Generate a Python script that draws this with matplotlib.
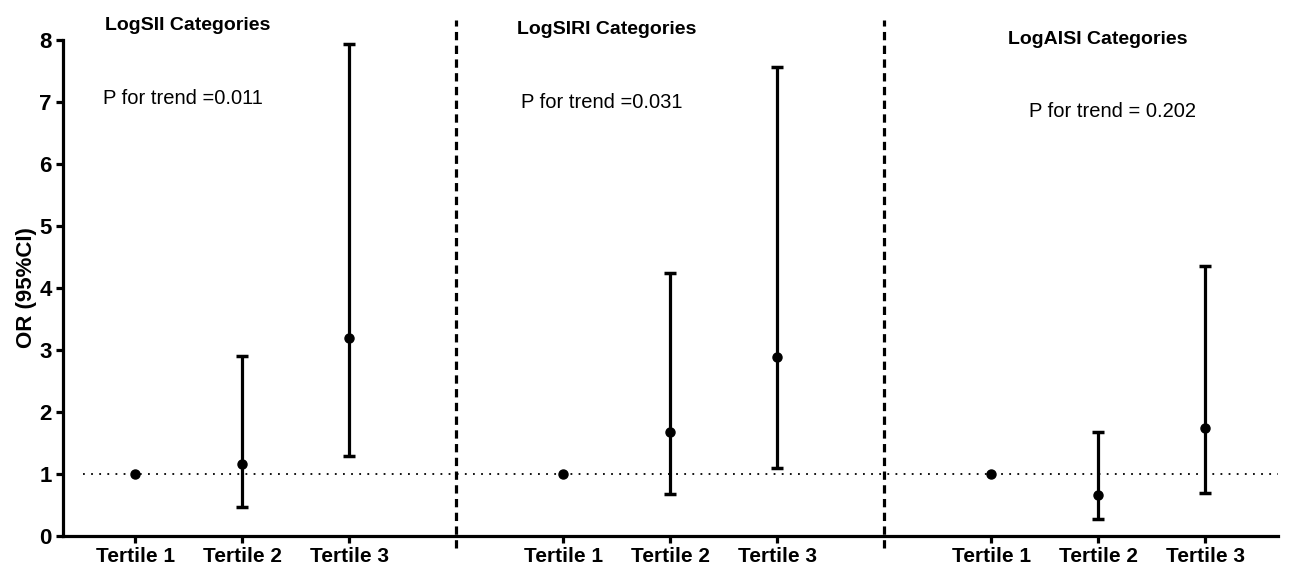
import numpy as np
import matplotlib
matplotlib.use('Agg')
import matplotlib.pyplot as plt

plt.rcParams['font.family'] = ['Liberation Sans', 'DejaVu Sans']

# Data
groups = ['LogSII Categories', 'LogSIRI Categories', 'LogAISI Categories']
p_trend = ['P for trend =0.011', 'P for trend =0.031', 'P for trend = 0.202']
tertiles = ['Tertile 1', 'Tertile 2', 'Tertile 3']

sii_or = [1.0, 1.16, 3.19]
sii_lo = [1.0, 0.47, 1.29]
sii_hi = [1.0, 2.90, 7.94]

siri_or = [1.0, 1.68, 2.89]
siri_lo = [1.0, 0.68, 1.10]
siri_hi = [1.0, 4.24, 7.56]

aisi_or = [1.0, 0.66, 1.74]
aisi_lo = [1.0, 0.27, 0.69]
aisi_hi = [1.0, 1.68, 4.35]

series = [(sii_or, sii_lo, sii_hi), (siri_or, siri_lo, siri_hi), (aisi_or, aisi_lo, aisi_hi)]

fig = plt.figure(figsize=(12.95, 5.73), dpi=100)
ax = fig.add_axes([0.0487, 0.0646, 0.9382, 0.8654])

lw = 2.3
xticks = []
xlabels = []
for g, (orv, lo, hi) in enumerate(series):
    x = np.arange(3) + 4 * g
    orv = np.array(orv)
    lo = np.array(lo)
    hi = np.array(hi)
    # reference category: point only
    ax.plot(x[0], orv[0], 'o', color='black', ms=6.5, zorder=4)
    ax.errorbar(x[1:], orv[1:], yerr=[orv[1:] - lo[1:], hi[1:] - orv[1:]],
                fmt='o', color='black', ms=6.5, elinewidth=lw, capsize=4.5,
                capthick=2.5, zorder=4)
    xticks.extend(x)
    xlabels.extend(tertiles)

    cx = [0.49, 4.41, 9.0][g]
    ty = [8.24, 8.17, 8.01][g]
    ax.text(cx, ty, groups[g], ha='center', va='center', fontsize=14,
            fontweight='bold', clip_on=False)
    px = [0.45, 4.36, 9.13][g]
    py = [7.06, 7.0, 6.85][g]
    ax.text(px, py, p_trend[g], ha='center', va='center', fontsize=14.5)

# dividers between categories
ax.vlines([3, 7], -0.2, 8.33, colors='black', linewidth=lw,
          linestyles=(0, (2.6, 1.7)), clip_on=False, zorder=3)

# reference line OR = 1
ax.plot([-0.49, 10.68], [1, 1], color='black', linewidth=1.3,
        linestyle=(0, (1, 3.5)), zorder=2)

ax.set_xlim(-0.673, 10.68)
ax.set_ylim(0, 8)
ax.set_xticks(xticks)
ax.set_xticklabels(xlabels, fontsize=15, fontweight='bold')
ax.set_yticks(range(0, 9))
ax.set_yticklabels([str(v) for v in range(0, 9)], fontsize=16, fontweight='bold')
ax.set_ylabel('OR (95%CI)', fontsize=16, fontweight='bold', labelpad=2)

for s in ['top', 'right']:
    ax.spines[s].set_visible(False)
for s in ['left', 'bottom']:
    ax.spines[s].set_linewidth(lw)
ax.tick_params(axis='both', direction='out', length=5, width=lw, pad=3)

fig.savefig('out.png', dpi=100)
